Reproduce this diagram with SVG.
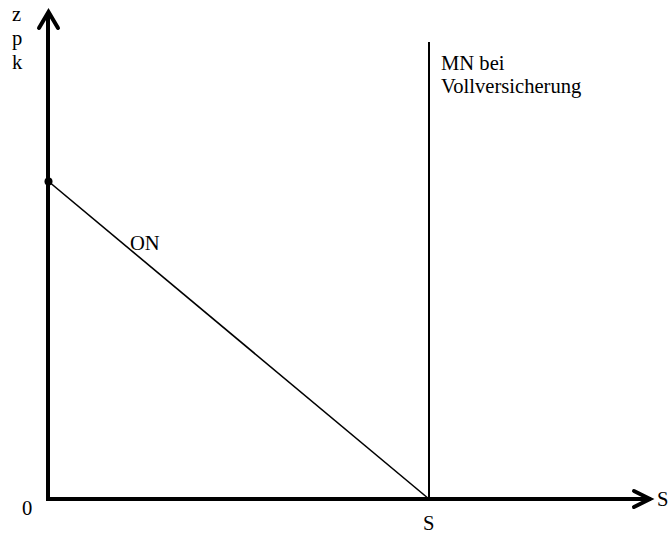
<svg xmlns="http://www.w3.org/2000/svg" width="672" height="533" viewBox="0 0 672 533">
<style>
text{font-family:"Liberation Serif","Times New Roman",serif;font-size:20.6px;fill:#000}
.axis{stroke:#000;stroke-width:4;fill:none;stroke-linecap:square}
.head{stroke:#000;stroke-width:4;fill:none;stroke-linecap:round;stroke-linejoin:miter}
.thin{stroke:#000;stroke-width:1.6;fill:none}
</style>
<rect width="672" height="533" fill="#fff"/>
<g id="connectors">
<path class="axis" d="M48,499 V14"/>
<path class="head" d="M39,28 L48.5,12 L58,28"/>
<path class="axis" d="M48,499 H649"/>
<path class="head" d="M634,491 L650,499 L634,507"/>
<path class="thin" d="M48,181 L429,499"/>
<path class="thin" d="M429,42 V499" style="stroke-width:2"/>
</g>
<g id="point"><circle cx="48.5" cy="181.5" r="4" fill="#000"/></g>
<g id="labels">
<text x="12" y="21">z</text>
<text x="12" y="45">p</text>
<text x="12" y="69">k</text>
<text x="130" y="250">ON</text>
<text x="441" y="70">MN bei</text>
<text x="441" y="93">Vollversicherung</text>
<text x="22" y="515">0</text>
<text x="423" y="530">S</text>
<text x="657" y="506">S</text>
</g>
</svg>
